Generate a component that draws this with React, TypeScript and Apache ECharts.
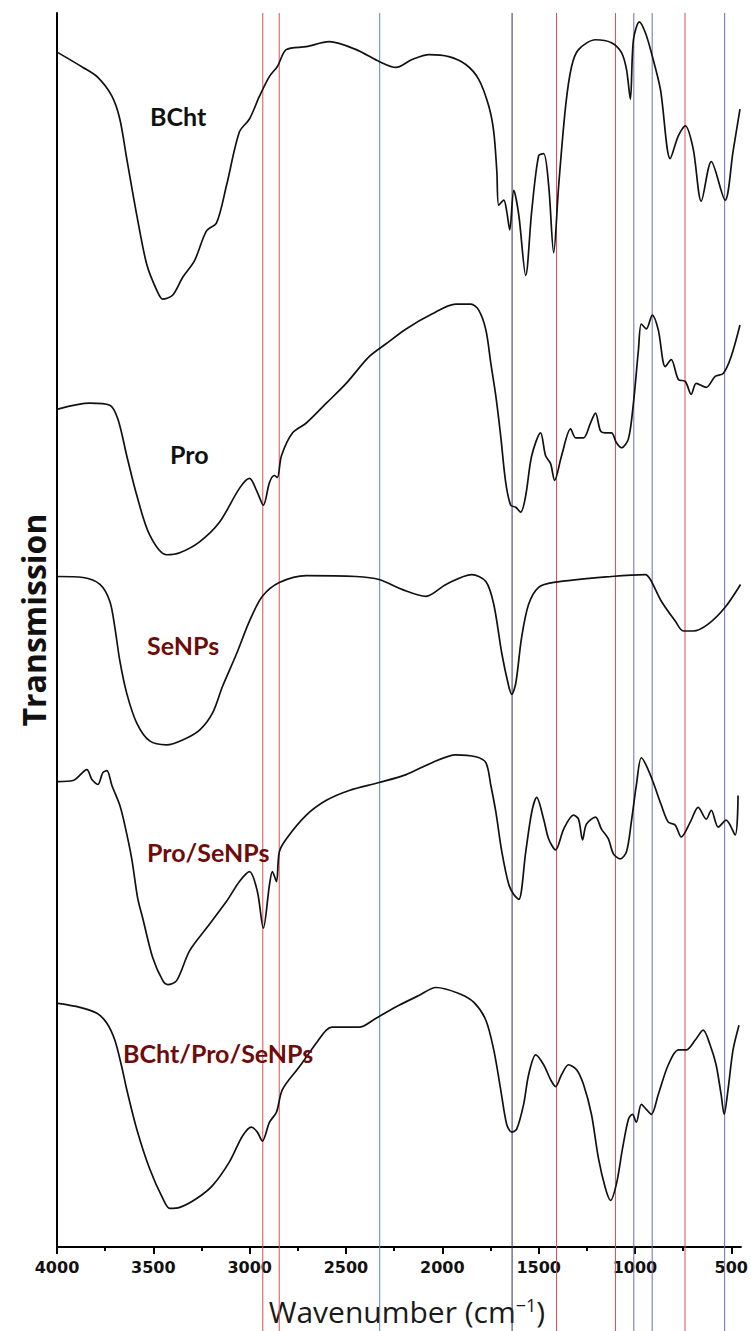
import React, { useEffect, useRef } from "react";
import * as echarts from "echarts";

// Wavenumber ticks (cm-1)
const majorTicks = [4000, 3500, 3000, 2500, 2000, 1500, 1000, 500];
const minorTicks = [3750, 3250, 2750, 2250, 1750, 1250, 750];

// Stacked transmission traces [wavenumber, transmission (a.u., offset)]
const bcht: number[][] = [
  [3995, 120.6], [3865, 119.1], [3788, 118.1], [3715, 116.2], [3674, 113.9], [3638, 109.9],
  [3586, 104.2], [3534, 99.2], [3482, 96.6], [3451, 95.7], [3400, 96.1], [3348, 97.9],
  [3286, 99.6], [3224, 102.6], [3172, 103.4], [3120, 107.2], [3053, 112.6], [3001, 113.9],
  [2949, 116.2], [2897, 118.2], [2856, 119.2], [2810, 120.9], [2706, 121.2], [2587, 121.7],
  [2447, 120.9], [2328, 119.7], [2240, 119.1], [2157, 119.9], [2069, 120.4], [1966, 120.2],
  [1878, 119.4], [1811, 117.9], [1759, 115.2], [1733, 112.6], [1717, 108.6], [1707, 105.2],
  [1681, 105.7], [1666, 104.6], [1650, 102.7], [1629, 106.7], [1603, 104.2], [1567, 98.1],
  [1536, 104.6], [1500, 110.2], [1474, 110.4], [1448, 107.2], [1422, 100.4], [1396, 107.2],
  [1360, 115.2], [1329, 119.2], [1293, 120.9], [1205, 121.9], [1122, 121.6], [1070, 120.6],
  [1044, 118.9], [1024, 115.9], [1008, 121.9], [977, 123.7], [946, 122.6], [915, 120.6],
  [868, 116.9], [817, 109.9], [775, 112.2], [739, 113.2], [698, 110.9], [656, 105.6],
  [604, 109.6], [532, 105.7], [491, 110.6], [455, 114.9],
];

const pro: number[][] = [
  [3995, 84.6], [3829, 85.2], [3726, 85.0], [3684, 83.6], [3638, 79.9], [3586, 75.9],
  [3519, 71.9], [3431, 69.9], [3363, 70.1], [3260, 71.2], [3156, 73.2], [3053, 76.6],
  [3001, 77.6], [2960, 76.2], [2929, 74.9], [2897, 77.2], [2872, 77.9], [2856, 77.7],
  [2835, 79.9], [2778, 82.2], [2706, 83.2], [2602, 85.2], [2499, 87.2], [2380, 89.9],
  [2292, 91.2], [2188, 92.7], [2054, 94.2], [1930, 95.2], [1852, 95.2], [1811, 94.6],
  [1774, 92.6], [1748, 89.2], [1722, 85.9], [1697, 81.9], [1671, 77.2], [1645, 74.9],
  [1619, 74.7], [1593, 74.2], [1567, 75.9], [1536, 79.9], [1490, 82.2], [1464, 79.9],
  [1438, 79.1], [1417, 77.4], [1381, 79.9], [1334, 82.6], [1308, 81.7], [1267, 81.7],
  [1231, 83.2], [1205, 84.2], [1179, 82.4], [1153, 82.2], [1122, 82.2], [1096, 81.2],
  [1070, 80.7], [1034, 81.6], [1008, 85.2], [982, 90.6], [967, 93.2], [941, 92.7],
  [910, 94.1], [879, 92.6], [843, 88.9], [812, 89.6], [775, 87.6], [739, 87.4],
  [708, 86.1], [682, 87.2], [630, 86.8], [584, 87.9], [542, 88.2], [501, 89.9], [455, 93.1],
];

const senps: number[][] = [
  [3995, 67.7], [3865, 67.6], [3777, 66.9], [3726, 65.2], [3700, 62.6], [3674, 59.2],
  [3638, 55.9], [3586, 52.9], [3519, 51.1], [3431, 50.7], [3348, 51.2], [3260, 52.2],
  [3193, 53.9], [3141, 56.6], [3068, 59.9], [3001, 63.2], [2934, 65.7], [2846, 67.1],
  [2706, 67.8], [2447, 67.7], [2328, 67.4], [2209, 66.4], [2085, 65.7], [1981, 66.9],
  [1847, 67.9], [1774, 67.2], [1733, 64.9], [1691, 59.9], [1655, 56.6], [1640, 55.8],
  [1619, 56.9], [1588, 61.6], [1552, 64.9], [1500, 66.6], [1422, 67.1], [1122, 67.7],
  [946, 67.9], [920, 67.4], [863, 65.2], [791, 63.2], [749, 62.2], [698, 62.2],
  [620, 62.9], [532, 64.6], [452, 66.9],
];

const proSenps: number[][] = [
  [3995, 47.0], [3917, 47.1], [3845, 48.2], [3819, 47.2], [3788, 46.7], [3762, 47.9],
  [3741, 48.1], [3715, 46.6], [3674, 44.6], [3648, 42.6], [3612, 39.2], [3581, 35.2],
  [3555, 33.2], [3503, 29.2], [3451, 26.9], [3425, 26.5], [3379, 26.9], [3312, 29.9],
  [3224, 32.2], [3120, 34.9], [3053, 36.9], [3001, 37.9], [2960, 35.9], [2929, 32.2],
  [2897, 36.6], [2882, 37.9], [2861, 36.9], [2846, 39.9], [2810, 41.2], [2706, 43.6],
  [2602, 45.1], [2483, 46.1], [2328, 46.9], [2188, 47.7], [2054, 48.9], [1930, 49.7],
  [1826, 49.5], [1774, 48.9], [1748, 46.6], [1722, 43.9], [1691, 39.9], [1655, 36.6],
  [1629, 35.6], [1603, 35.1], [1567, 39.9], [1536, 43.9], [1510, 45.4], [1474, 43.2],
  [1448, 41.2], [1412, 40.1], [1370, 42.2], [1319, 43.6], [1293, 43.2], [1272, 41.1],
  [1252, 42.7], [1205, 43.4], [1174, 42.2], [1138, 41.2], [1112, 39.7], [1076, 39.2],
  [1044, 39.9], [1019, 42.9], [993, 46.6], [967, 49.4], [941, 48.6], [905, 46.9],
  [863, 44.6], [827, 42.9], [791, 42.6], [760, 41.4], [713, 42.9], [672, 44.4],
  [630, 43.2], [604, 44.1], [568, 42.4], [527, 43.1], [480, 41.6], [465, 45.6],
];

const bchtProSenps: number[][] = [
  [3995, 24.6], [3881, 24.2], [3793, 23.6], [3741, 22.6], [3700, 20.9], [3664, 18.2],
  [3638, 15.9], [3586, 11.9], [3519, 7.9], [3451, 4.9], [3415, 3.9], [3363, 4.0],
  [3275, 4.9], [3193, 6.2], [3105, 8.6], [3037, 11.2], [2991, 12.1], [2960, 11.6],
  [2934, 10.7], [2897, 12.6], [2861, 13.6], [2830, 15.9], [2742, 18.2], [2654, 20.6],
  [2602, 21.9], [2571, 22.2], [2432, 22.2], [2344, 23.1], [2225, 24.4], [2121, 25.4],
  [2033, 26.2], [1914, 25.6], [1836, 24.7], [1774, 22.9], [1733, 19.9], [1697, 15.9],
  [1666, 12.4], [1640, 11.6], [1614, 11.9], [1578, 14.4], [1552, 17.4], [1515, 19.4],
  [1474, 18.4], [1438, 16.9], [1412, 16.2], [1381, 17.4], [1345, 18.4], [1303, 17.9],
  [1267, 16.4], [1226, 13.4], [1189, 8.9], [1153, 5.9], [1127, 4.7], [1096, 6.4],
  [1065, 9.9], [1034, 12.9], [1013, 13.4], [993, 12.6], [967, 14.4], [941, 13.9],
  [915, 13.4], [879, 15.4], [827, 18.4], [775, 19.9], [734, 19.9], [687, 20.9],
  [646, 21.9], [610, 20.4], [579, 18.4], [553, 15.4], [537, 13.4], [517, 15.9],
  [491, 19.9], [460, 22.4],
];

// Marked band positions (cm-1) and their guide colour group
const bandWavenumbers = [2935, 2850, 2330, 1645, 1415, 1110, 1015, 920, 750, 545];
const bandGroups = ["red", "red", "sky", "navy", "red", "red", "violet", "violet", "red", "violet"];

const seriesNames = ["BCht", "Pro", "SeNPs", "Pro/SeNPs", "BCht/Pro/SeNPs"];

const bandColors: Record<string, string> = {
  red: "#d65050",
  sky: "#4f86d0",
  navy: "#2e2e6a",
  violet: "#6c6cb6",
};

const X_MIN = -4000;
const X_MAX = -450;
const Y_MAX = 124.6;

export default function App() {
  const ref = useRef<HTMLDivElement>(null);

  useEffect(() => {
    if (!ref.current) return;
    const chart = echarts.init(ref.current, undefined, { renderer: "svg" });

    const traces = [bcht, pro, senps, proSenps, bchtProSenps];
    const curveSeries = traces.map((tr, i) => ({
      name: seriesNames[i],
      type: "line",
      xAxisIndex: 0,
      yAxisIndex: 0,
      data: tr.map(([w, t]) => [-w, t]),
      showSymbol: false,
      symbol: "none",
      smooth: 0.3,
      silent: true,
      z: 5,
      lineStyle: { color: "#111", width: 1.7 },
    }));

    const bandSeries = bandWavenumbers.map((w, i) => ({
      type: "line",
      xAxisIndex: 2,
      yAxisIndex: 1,
      data: [[-w, 0], [-w, 1]],
      symbol: "none",
      silent: true,
      z: 2,
      lineStyle: { color: bandColors[bandGroups[i]], width: 1 },
    }));

    const labelFont = "bold 25px Lato, 'Open Sans', sans-serif";
    const labels = [
      { text: "BCht", x: 150, y: 116, color: "#111" },
      { text: "Pro", x: 170, y: 454, color: "#111" },
      { text: "SeNPs", x: 147, y: 645, color: "#6e0b0b" },
      { text: "Pro/SeNPs", x: 147, y: 852, color: "#6e0b0b" },
      { text: "BCht/Pro/SeNPs", x: 123, y: 1053, color: "#6e0b0b" },
    ];

    chart.setOption({
      animation: false,
      backgroundColor: "#fff",
      grid: [
        { left: 57, right: 8, top: 13, bottom: 72 },
        { left: 57, right: 8, top: 13, bottom: 0 },
      ],
      xAxis: [
        {
          gridIndex: 0,
          type: "value",
          min: X_MIN,
          max: X_MAX,
          position: "bottom",
          axisLine: { show: true, onZero: false, lineStyle: { color: "#000", width: 2 } },
          axisTick: {
            show: true,
            customValues: majorTicks.map((v) => -v),
            length: 7,
            lineStyle: { color: "#000", width: 2 },
          },
          axisLabel: {
            show: true,
            customValues: majorTicks.map((v) => -v),
            formatter: (v: number) => String(Math.abs(v)),
            fontFamily: "'DejaVu Sans', sans-serif",
            fontWeight: "bold",
            fontSize: 16,
            color: "#111",
            margin: 12,
          },
          splitLine: { show: false },
          name: "{a|Wavenumber (cm}{s|−1}{a|)}",
          nameLocation: "middle",
          nameGap: 49,
          nameTextStyle: {
            padding: [0, 0, 0, 16],
            rich: {
              a: { fontFamily: "'Open Sans', sans-serif", fontSize: 30, color: "#1a1a1a", fontWeight: "normal" },
              s: { fontFamily: "'Open Sans', sans-serif", fontSize: 18, color: "#1a1a1a", verticalAlign: "top", fontWeight: "normal" },
            },
          },
        },
        {
          gridIndex: 0,
          type: "value",
          min: X_MIN,
          max: X_MAX,
          position: "bottom",
          axisLine: { show: false, onZero: false },
          axisTick: {
            show: true,
            customValues: minorTicks.map((v) => -v),
            length: 4,
            lineStyle: { color: "#000", width: 2 },
          },
          axisLabel: { show: false },
          splitLine: { show: false },
        },
        {
          gridIndex: 1,
          type: "value",
          min: X_MIN,
          max: X_MAX,
          show: false,
        },
      ],
      yAxis: [
        {
          gridIndex: 0,
          type: "value",
          min: 0,
          max: Y_MAX,
          axisLine: { show: true, onZero: false, lineStyle: { color: "#000", width: 2 } },
          axisTick: { show: false },
          axisLabel: { show: false },
          splitLine: { show: false },
        },
        { gridIndex: 1, type: "value", min: 0, max: 1, show: false },
      ],
      graphic: [
        {
          type: "text",
          x: 33,
          y: 620,
          rotation: Math.PI / 2,
          style: {
            text: "Transmission",
            font: "bold 32px 'Open Sans', sans-serif",
            fill: "#111",
            textAlign: "center",
            textVerticalAlign: "middle",
          },
        },
        ...labels.map((l) => ({
          type: "text",
          x: l.x,
          y: l.y,
          z: 10,
          style: {
            text: l.text,
            font: labelFont,
            fill: l.color,
            textAlign: "left",
            textVerticalAlign: "middle",
          },
        })),
      ],
      series: [...bandSeries, ...curveSeries],
    });

    return () => chart.dispose();
  }, []);

  return (
    <div
      ref={ref}
      style={{ position: "fixed", left: 0, top: 0, width: 751, height: 1331, background: "#fff" }}
    />
  );
}
